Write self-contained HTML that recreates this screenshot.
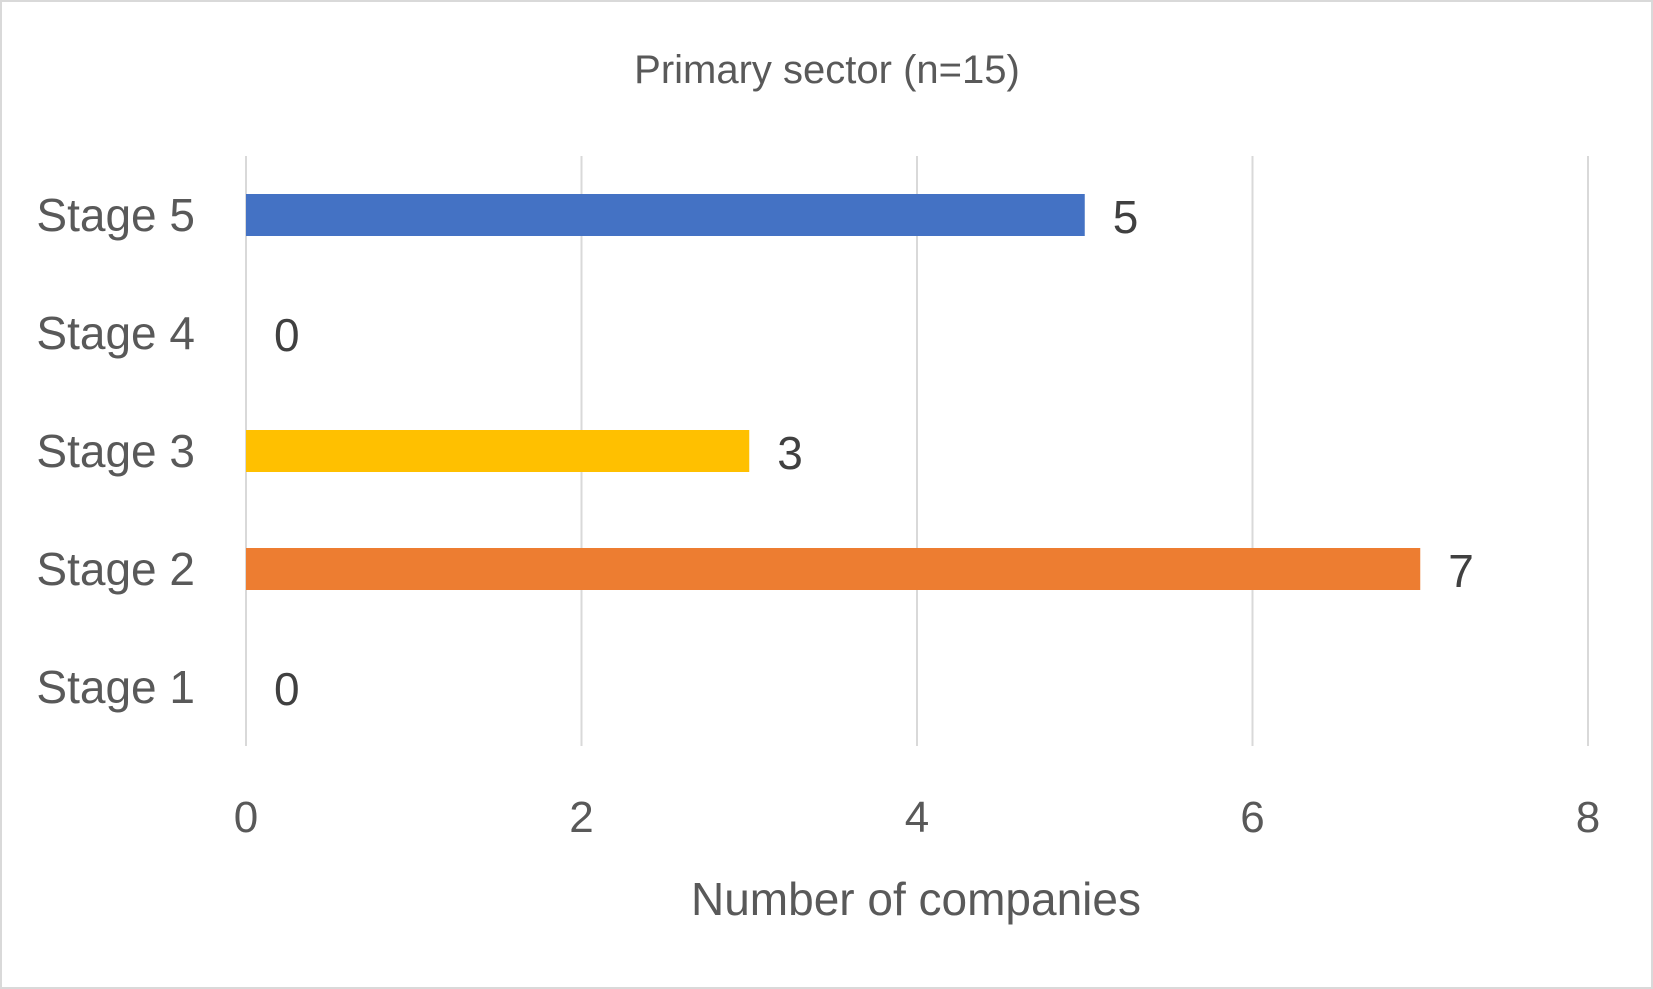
<!DOCTYPE html>
<html><head><meta charset="utf-8"><style>
html,body{margin:0;padding:0;background:#fff;}
svg{display:block;font-family:"Liberation Sans",sans-serif;}
</style></head><body>
<svg id="chart" width="1653" height="989" viewBox="0 0 1653 989">
<rect x="1" y="1" width="1651" height="987" fill="#fff" stroke="#d9d9d9" stroke-width="2"/>
<text x="827" y="83" text-anchor="middle" font-size="40" fill="#595959">Primary sector (n=15)</text>
<g id="grid"></g><g id="bars"></g><g id="labels"></g>
<text x="916" y="915" text-anchor="middle" font-size="46" fill="#595959">Number of companies</text>
</svg>
<script>
const categories=["Stage 1","Stage 2","Stage 3","Stage 4","Stage 5"];
const values=[0,7,3,0,5];
const colors=["#4472c4","#ed7d31","#ffc000","#4472c4","#4472c4"];
const ticks=[0,2,4,6,8];
const NS="http://www.w3.org/2000/svg";
const x0=246,x1=1588,yTop=156,yBot=746;
const xs=v=>x0+(v-0)/(8-0)*(x1-x0);
const band=(yBot-yTop)/categories.length;
const yc=i=>yBot-band*(i+0.5);
function mk(t,a,p){const e=document.createElementNS(NS,t);for(const k in a)e.setAttribute(k,a[k]);p.appendChild(e);return e;}
const grid=document.getElementById('grid'),bars=document.getElementById('bars'),labels=document.getElementById('labels');
ticks.forEach(t=>{
 const l=mk('line',{x1:xs(t),x2:xs(t),y1:yTop,y2:yBot,stroke:'#d9d9d9','stroke-width':2},grid);
 
 
 const tx=mk('text',{x:xs(t),y:832,'text-anchor':'middle','font-size':44,fill:'#595959'},labels);
 tx.textContent=t;
 
 
});
categories.forEach((c,i)=>{
 const y=yc(i);
 const lab=mk('text',{x:195,y:y+16,'text-anchor':'end','font-size':46,fill:'#595959'},labels);
 lab.textContent=c;
 
 
 const v=values[i];
 if(v>0){
  const r=mk('rect',{x:xs(0),y:y-21,width:xs(v)-xs(0),height:42,fill:colors[i]},bars);
  
  
 }
 const vl=mk('text',{x:xs(v)+28,y:y+18,'font-size':46,fill:'#404040'},labels);
 vl.textContent=v;
 
 
});
</script>
</body></html>
